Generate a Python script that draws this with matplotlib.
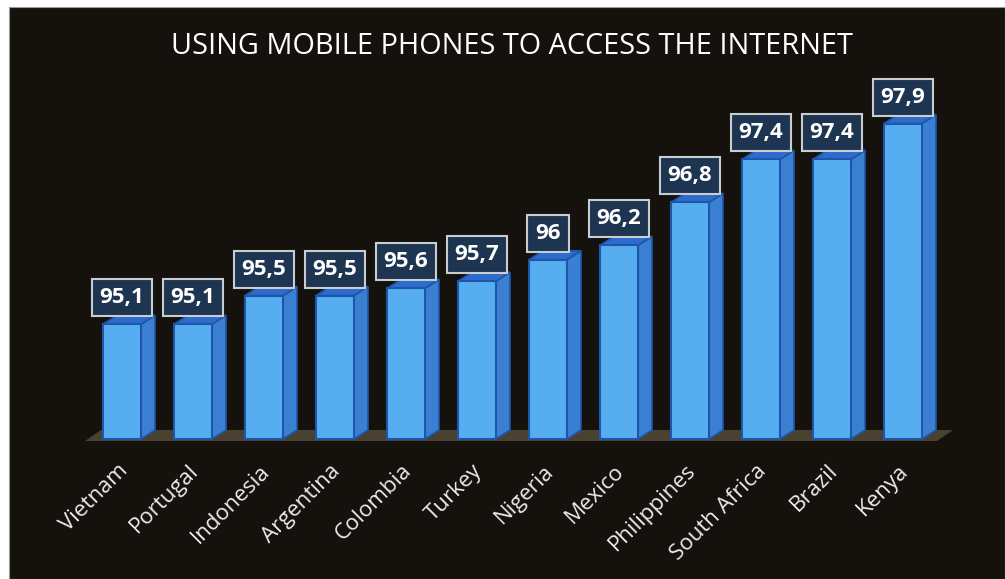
import matplotlib
matplotlib.use("Agg")
import matplotlib.pyplot as plt
from matplotlib.patches import Polygon, Rectangle
import matplotlib.transforms as mtransforms
import numpy as np

countries = ["Vietnam", "Portugal", "Indonesia", "Argentina", "Colombia", "Turkey",
             "Nigeria", "Mexico", "Philippines", "South Africa", "Brazil", "Kenya"]
values = [95.1, 95.1, 95.5, 95.5, 95.6, 95.7, 96.0, 96.2, 96.8, 97.4, 97.4, 97.9]
title = "USING MOBILE PHONES TO ACCESS THE INTERNET"

plt.rcParams['font.family'] = ['Open Sans', 'DejaVu Sans']

W, H = 1005, 579
fig = plt.figure(figsize=(W / 100, H / 100), dpi=100)
fig.patch.set_facecolor('white')
bg = '#15120d'
fig.add_artist(Rectangle((9 / W, 0), 1 - 9 / W, (H - 7) / H, transform=fig.transFigure,
                         facecolor=bg, edgecolor='#9a9a9a', lw=0.8, zorder=0))

# axes placement (pixels from top-left)
L, R, T, B = 60, 990, 80, 460
ax = fig.add_axes([L / W, (H - B) / H, (R - L) / W, (B - T) / H])
ax.set_facecolor('none')
base = 93.5
pxu_x, pxu_y = 71.0, 71.7
ax.set_xlim((L - 122) / pxu_x, (R - 122) / pxu_x)
ax.set_ylim(base - (B - 439) / pxu_y, base + (439 - T) / pxu_y)
for s in ax.spines.values():
    s.set_visible(False)
ax.set_yticks([])

x = np.arange(len(countries))
w = 38 / pxu_x
dx, dy = 14 / pxu_x, 9 / pxu_y

# floor
fdx, fdy = 16 / pxu_x, 11 / pxu_y
f0 = base - 2 / pxu_y
fl, fr = (85 - 122) / pxu_x, (937 - 122) / pxu_x
ax.add_patch(Polygon([(fl, f0), (fr, f0), (fr + fdx, f0 + fdy), (fl + fdx, f0 + fdy)],
                     closed=True, facecolor='#4a4230', edgecolor='none', zorder=1))

front = '#56aef0'
side = '#3a7fd2'
top = '#2d6ccb'
edge = '#1d56aa'
for xi, v in zip(x, values):
    xr = xi + w / 2
    xl = xi - w / 2
    ax.add_patch(Polygon([(xr, base), (xr + dx, base + dy), (xr + dx, v + dy), (xr, v)],
                         closed=True, facecolor=side, edgecolor=edge, lw=1.2, zorder=2))
    ax.add_patch(Polygon([(xl, v), (xr, v), (xr + dx, v + dy), (xl + dx, v + dy)],
                         closed=True, facecolor=top, edgecolor=edge, lw=1.2, zorder=2))
ax.bar(x, np.array(values) - base, bottom=base, width=w, color=front,
       edgecolor=edge, lw=1.5, zorder=3)

for xi, v in zip(x, values):
    lab = f"{v:g}".replace('.', ',')
    ax.annotate(lab, xy=(xi, v), xytext=(0, 26.5 * 0.72), textcoords='offset points',
                ha='center', va='center', color='white', fontsize=16, fontweight='bold',
                bbox=dict(boxstyle='square,pad=0.36', facecolor='#1e3551',
                          edgecolor='#c9cdd2', lw=1.5), zorder=5)

ax.set_xticks(x)
ax.set_xticklabels(countries, rotation=45, ha='right', rotation_mode='anchor',
                   color='#ececec', fontsize=16)
ax.tick_params(axis='x', length=0, pad=1)
offset = mtransforms.ScaledTranslation(-5 / 100, 1 / 100, fig.dpi_scale_trans)
for t in ax.get_xticklabels():
    t.set_transform(t.get_transform() + offset)

fig.text(512 / W, (H - 54) / H, title, ha='center', va='baseline', color='white',
         fontsize=20.8)

fig.savefig('out.png', dpi=100, facecolor=fig.get_facecolor())
